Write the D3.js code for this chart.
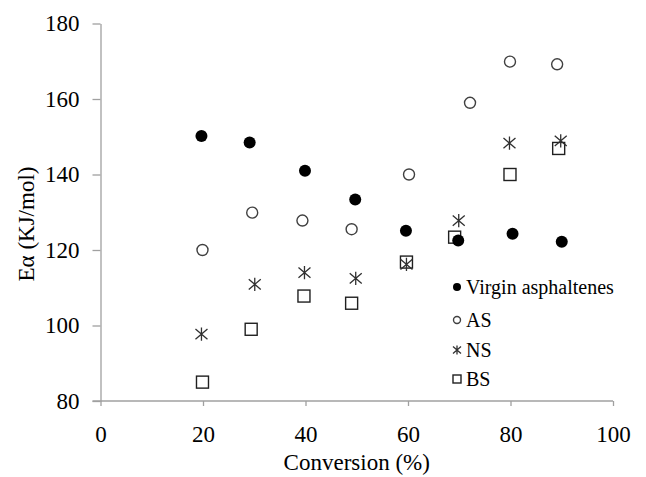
<!DOCTYPE html>
<html>
<head>
<meta charset="utf-8">
<script src="https://cdn.jsdelivr.net/npm/d3@7"></script>
</head>
<body style="margin:0">
<svg id="fig" width="646" height="477"></svg>
<script>
// Values (conversion %, activation energy)
const virginX = [19.7, 29.1, 39.9, 49.7, 59.6, 69.8, 80.4, 90.0];
const virginY = [150.2, 148.5, 141.0, 133.4, 125.1, 122.5, 124.3, 122.2];

const asX = [19.9, 29.6, 39.4, 49.0, 60.2, 72.1, 79.9, 89.1];
const asY = [120.0, 129.9, 127.8, 125.5, 140.0, 159.0, 169.9, 169.2];

const nsX = [19.7, 30.1, 39.8, 49.8, 59.7, 69.9, 79.8, 89.8];
const nsY = [97.7, 110.9, 114.0, 112.5, 116.2, 127.8, 148.3, 148.9];

const bsX = [19.9, 29.4, 39.7, 49.0, 59.7, 69.1, 79.9, 89.4];
const bsY = [85.0, 99.0, 107.8, 105.9, 116.8, 123.4, 140.0, 146.9];

const seriesNames = ["Virgin asphaltenes", "AS", "NS", "BS"];
const xTicks = [0, 20, 40, 60, 80, 100];
const yTicks = [80, 100, 120, 140, 160, 180];

const FONT = "Liberation Serif";

const svg = d3.select("#fig");

const x = d3.scaleLinear().domain([0, 100]).range([100.5, 613]);
const y = d3.scaleLinear().domain([80, 180]).range([401, 23.5]);

const axisColor = "#a0a0a0";

// x axis
const gx = svg.append("g")
    .attr("transform", "translate(0,401)")
    .call(d3.axisBottom(x).tickValues(xTicks).tickSize(5).tickSizeOuter(0).tickPadding(20));

// y axis
const gy = svg.append("g")
    .attr("transform", "translate(100.5,0)")
    .call(d3.axisLeft(y).tickValues(yTicks).tickSize(8).tickSizeOuter(0).tickPadding(13));

[gx, gy].forEach(function(g) {
    g.attr("font-family", FONT).attr("font-size", 23);
    g.select(".domain").attr("stroke", axisColor).attr("stroke-width", 1.3);
    g.selectAll(".tick line").attr("stroke", axisColor).attr("stroke-width", 1.3);
    g.selectAll(".tick text").attr("fill", "#000");
});
// the x axis line also reaches left over the y=80 tick
gx.select(".domain").attr("d", "M92.5,0H613");

// axis titles
svg.append("text")
    .attr("x", (x(0) + x(100)) / 2)
    .attr("y", 470)
    .attr("text-anchor", "middle")
    .attr("font-family", FONT)
    .attr("font-size", 23)
    .text("Conversion (%)");

svg.append("text")
    .attr("transform", "translate(34,224) rotate(-90)")
    .attr("text-anchor", "middle")
    .attr("font-family", FONT)
    .attr("font-size", 23)
    .text("Eα (KJ/mol)");

// marker shapes
const starPath = function(s) {
    return "M0," + (-s * 1.1) + "V" + (s * 1.1) +
        "M" + (-s) + "," + (-s * 0.85) + "L" + s + "," + (s * 0.85) +
        "M" + s + "," + (-s * 0.85) + "L" + (-s) + "," + (s * 0.85);
};

function drawMarker(g, kind, size) {
    if (kind === 0) {
        g.append("circle").attr("r", size).attr("fill", "#000");
    } else if (kind === 1) {
        g.append("circle").attr("r", size - 0.5).attr("fill", "none")
            .attr("stroke", "#404040").attr("stroke-width", 1.4);
    } else if (kind === 2) {
        g.append("path").attr("d", starPath(size)).attr("fill", "none")
            .attr("stroke", "#303030").attr("stroke-width", 1.3);
    } else {
        g.append("rect").attr("x", -size).attr("y", -size)
            .attr("width", size * 2).attr("height", size * 2)
            .attr("fill", "#fff").attr("stroke", "#202020").attr("stroke-width", 1.4);
    }
}

const series = [
    {xs: virginX, ys: virginY},
    {xs: asX, ys: asY},
    {xs: nsX, ys: nsY},
    {xs: bsX, ys: bsY}
];

// draw in order: BS squares under the others, like the reference
[3, 1, 2, 0].forEach(function(k) {
    const s = series[k];
    const pts = s.xs.map(function(v, i) { return [v, s.ys[i]]; });
    svg.append("g").selectAll("g")
        .data(pts)
        .enter().append("g")
        .attr("transform", function(d) { return "translate(" + x(d[0]) + "," + y(d[1]) + ")"; })
        .each(function() { drawMarker(d3.select(this), k, 6); });
});

// legend
const legendY = [287, 320, 350, 379];
const legend = svg.append("g").attr("font-family", FONT);
seriesNames.forEach(function(name, k) {
    const row = legend.append("g").attr("transform", "translate(457," + legendY[k] + ")");
    drawMarker(row, k, 4);
    row.append("text")
        .attr("x", 9)
        .attr("y", 7)
        .attr("font-size", 20)
        .text(name);
});
</script>
</body>
</html>
